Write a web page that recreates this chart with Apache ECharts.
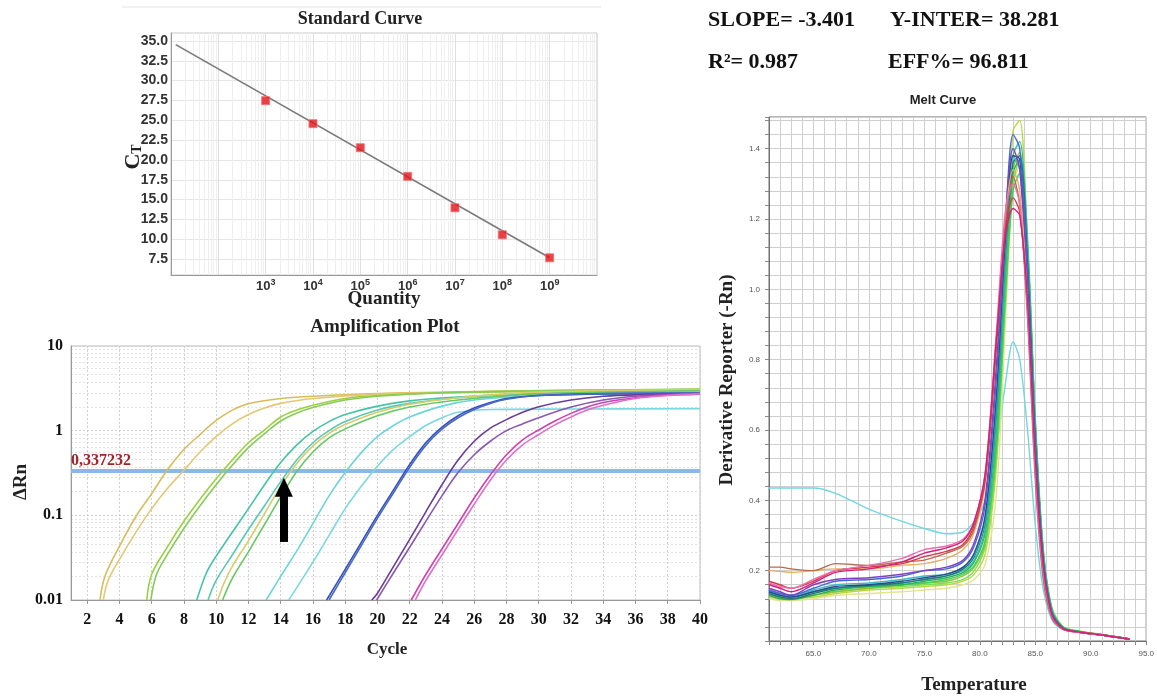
<!DOCTYPE html>
<html>
<head>
<meta charset="utf-8">
<script src="https://cdn.jsdelivr.net/npm/echarts@6/dist/echarts.min.js"></script>
<style>
  html, body { margin: 0; padding: 0; background: #fff; }
  #chart { width: 1157px; height: 699px; }
</style>
</head>
<body>
<div id="chart"></div>
<script>
// ---------- standard curve ----------
const quantityExp = [3, 4, 5, 6, 7, 8, 9]
const ctValues = [27.47, 24.57, 21.54, 17.93, 13.97, 10.57, 7.67]
const ctTicks = [7.5, 10, 12.5, 15, 17.5, 20, 22.5, 25, 27.5, 30, 32.5, 35]
const quantityTicks = [3, 4, 5, 6, 7, 8, 9]
const fitSlope = -3.401
const fitIntercept = 38.281
const fitRange = [1.1, 9]

// ---------- amplification plot ----------
const cycleTicks = [2, 4, 6, 8, 10, 12, 14, 16, 18, 20, 22, 24, 26, 28, 30, 32, 34, 36, 38, 40]
const threshold = 0.337232
const arrowCycle = 14.2
const arrowFrom = 0.0485
const arrowTo = 0.214

const ampGold1 = [[2.8, 0.01], [3.1, 0.019], [4, 0.043], [5, 0.095], [6, 0.18], [7, 0.35], [8, 0.6], [9, 0.9], [10, 1.32], [11, 1.75], [12, 2.08], [14, 2.4], [16, 2.55], [20, 2.75], [26, 2.9], [32, 3.0], [40, 3.05]]
const ampGold2 = [[3.0, 0.01], [3.3, 0.017], [4, 0.03], [5, 0.062], [6, 0.12], [7, 0.21], [8, 0.34], [9, 0.56], [10, 0.85], [11, 1.2], [12, 1.55], [13, 1.85], [14, 2.1], [16, 2.4], [20, 2.7], [26, 2.85], [32, 2.95], [40, 3.0]]
const ampGreen1 = [[5.7, 0.01], [6, 0.02], [7, 0.043], [8, 0.085], [9, 0.155], [10, 0.27], [11, 0.45], [12, 0.72], [13, 1.02], [14, 1.45], [15, 1.75], [16, 2.0], [18, 2.4], [20, 2.6], [24, 2.8], [30, 2.95], [40, 3.05]]
const ampGreen2 = [[5.95, 0.01], [6.3, 0.02], [7, 0.035], [8, 0.07], [9, 0.13], [10, 0.23], [11, 0.39], [12, 0.63], [13, 0.92], [14, 1.3], [15, 1.62], [16, 1.88], [18, 2.3], [20, 2.55], [24, 2.8], [30, 2.95], [40, 3.1]]
const ampTeal1 = [[8.8, 0.01], [9.4, 0.021], [10, 0.033], [11, 0.063], [12, 0.12], [13, 0.23], [14, 0.42], [15, 0.68], [16, 0.98], [17, 1.28], [18, 1.55], [20, 1.95], [22, 2.25], [25, 2.5], [30, 2.75], [40, 2.95]]
const ampTeal2 = [[9.5, 0.01], [10, 0.017], [11, 0.034], [12, 0.068], [13, 0.13], [14, 0.25], [15, 0.45], [16, 0.72], [17, 1.0], [18, 1.28], [20, 1.75], [22, 2.1], [25, 2.45], [30, 2.75], [40, 3.0]]
const ampOlive = [[10.1, 0.01], [10.5, 0.016], [11, 0.025], [12, 0.05], [13, 0.105], [14, 0.22], [15, 0.41], [16, 0.66], [17, 0.93], [18, 1.18], [20, 1.65], [22, 2.05], [25, 2.45], [30, 2.85], [40, 3.05]]
const ampGreen3 = [[10.4, 0.01], [11, 0.018], [12, 0.037], [13, 0.078], [14, 0.165], [15, 0.33], [16, 0.56], [17, 0.82], [18, 1.05], [20, 1.5], [22, 1.9], [25, 2.3], [30, 2.7], [40, 2.95]]
const ampCyan1 = [[13.1, 0.01], [14, 0.019], [15, 0.038], [16, 0.08], [17, 0.17], [18, 0.32], [19, 0.55], [20, 0.85], [21, 1.15], [22, 1.45], [24, 1.95], [26, 2.3], [30, 2.6], [40, 2.85]]
const ampCyan2 = [[14.5, 0.01], [15, 0.014], [16, 0.028], [17, 0.058], [18, 0.12], [19, 0.22], [20, 0.38], [21, 0.6], [22, 0.85], [23, 1.15], [24, 1.42], [25, 1.65], [27, 1.78], [32, 1.8], [40, 1.82]]
const ampBlue1 = [[16.85, 0.01], [18, 0.023], [19, 0.048], [20, 0.1], [21, 0.2], [22, 0.4], [23, 0.72], [24, 1.1], [25, 1.5], [26, 1.85], [27, 2.15], [28, 2.4], [30, 2.6], [34, 2.72], [40, 2.75]]
const ampBlue2 = [[17.0, 0.01], [18, 0.021], [19, 0.044], [20, 0.092], [21, 0.185], [22, 0.37], [23, 0.67], [24, 1.04], [25, 1.42], [26, 1.78], [27, 2.1], [28, 2.35], [30, 2.6], [34, 2.75], [40, 2.8]]
const ampPurple1 = [[19.65, 0.01], [20, 0.012], [21, 0.025], [22, 0.052], [23, 0.11], [24, 0.23], [25, 0.45], [26, 0.75], [27, 1.07], [28, 1.35], [29, 1.65], [30, 1.92], [32, 2.3], [34, 2.55], [36, 2.65], [40, 2.7]]
const ampPurple2 = [[19.95, 0.01], [21, 0.021], [22, 0.042], [23, 0.085], [24, 0.17], [25, 0.32], [26, 0.52], [27, 0.75], [28, 1.0], [29, 1.2], [30, 1.42], [32, 1.9], [34, 2.3], [36, 2.55], [38, 2.65], [40, 2.7]]
const ampMagenta1 = [[22.1, 0.01], [23, 0.02], [24, 0.04], [25, 0.08], [26, 0.16], [27, 0.3], [28, 0.52], [29, 0.78], [30, 1.02], [31, 1.3], [32, 1.6], [33, 1.9], [34, 2.15], [36, 2.45], [38, 2.65], [40, 2.75]]
const ampMagenta2 = [[22.35, 0.01], [23, 0.017], [24, 0.034], [25, 0.068], [26, 0.135], [27, 0.26], [28, 0.45], [29, 0.68], [30, 0.9], [31, 1.17], [32, 1.45], [33, 1.75], [34, 2.0], [36, 2.4], [38, 2.6], [40, 2.72]]

const ampCurves = [ampGold1, ampGold2, ampGreen1, ampGreen2, ampTeal1, ampTeal2, ampOlive, ampGreen3,
  ampCyan1, ampCyan2, ampBlue1, ampBlue2, ampPurple1, ampPurple2, ampMagenta1, ampMagenta2]
const ampColors = ['#d8bc5c', '#e2c874', '#9cd040', '#84cc58', '#44c4a4', '#58c8b8', '#d8cc6a', '#66c860',
  '#6cd4dc', '#7ad8e0', '#3350b8', '#4a68c8', '#6a3c98', '#8a58b0', '#d040b0', '#e070c8']

// ---------- melt curve ----------
const meltTemps = [61, 62, 63, 65, 67, 70, 73, 75, 77, 78.5, 79.5, 80.5, 81.5, 82.3, 83, 83.6, 84.3, 85, 85.7, 86.5, 87.5, 89, 91, 93.5]
const meltXTicks = [65, 70, 75, 80, 85, 90, 95]
const meltYTicks = [0.2, 0.4, 0.6, 0.8, 1.0, 1.2, 1.4]

const meltBrown = [0.21, 0.21, 0.205, 0.2, 0.22, 0.215, 0.225, 0.23, 0.25, 0.27, 0.32, 0.47, 0.86, 1.18, 1.32, 1.24, 0.92, 0.46, 0.18, 0.065, 0.033, 0.025, 0.018, 0.006]
const meltOrange = [0.2, 0.198, 0.195, 0.2, 0.205, 0.205, 0.215, 0.22, 0.235, 0.26, 0.31, 0.45, 0.84, 1.2, 1.34, 1.28, 0.96, 0.5, 0.2, 0.072, 0.034, 0.025, 0.018, 0.006]
const meltPink = [0.165, 0.155, 0.15, 0.175, 0.2, 0.215, 0.235, 0.26, 0.27, 0.29, 0.34, 0.48, 0.88, 1.22, 1.3, 1.24, 0.94, 0.48, 0.2, 0.07, 0.034, 0.024, 0.017, 0.005]
const meltMagenta = [0.16, 0.15, 0.14, 0.165, 0.195, 0.205, 0.225, 0.25, 0.265, 0.285, 0.34, 0.48, 0.86, 1.15, 1.23, 1.21, 0.97, 0.52, 0.22, 0.075, 0.035, 0.025, 0.017, 0.005]
const meltRed = [0.17, 0.16, 0.15, 0.17, 0.2, 0.21, 0.22, 0.24, 0.255, 0.275, 0.33, 0.46, 0.84, 1.17, 1.26, 1.22, 0.95, 0.5, 0.21, 0.072, 0.034, 0.025, 0.017, 0.005]
const meltPurple = [0.15, 0.14, 0.13, 0.16, 0.175, 0.18, 0.19, 0.2, 0.21, 0.23, 0.28, 0.41, 0.79, 1.2, 1.4, 1.34, 1.0, 0.52, 0.22, 0.075, 0.035, 0.025, 0.017, 0.005]
const meltBlue = [0.145, 0.135, 0.13, 0.15, 0.17, 0.175, 0.185, 0.2, 0.205, 0.225, 0.27, 0.39, 0.75, 1.18, 1.44, 1.4, 1.05, 0.55, 0.23, 0.08, 0.036, 0.025, 0.017, 0.005]
const meltNavy = [0.14, 0.13, 0.125, 0.14, 0.155, 0.16, 0.17, 0.18, 0.19, 0.21, 0.25, 0.36, 0.7, 1.14, 1.38, 1.37, 1.05, 0.55, 0.23, 0.08, 0.036, 0.025, 0.017, 0.005]
const meltDarkTeal = [0.135, 0.125, 0.12, 0.135, 0.15, 0.158, 0.165, 0.175, 0.185, 0.205, 0.24, 0.34, 0.66, 1.1, 1.36, 1.38, 1.08, 0.58, 0.24, 0.082, 0.037, 0.026, 0.018, 0.006]
const meltGreen = [0.13, 0.12, 0.118, 0.13, 0.145, 0.155, 0.16, 0.17, 0.18, 0.195, 0.225, 0.31, 0.6, 1.05, 1.33, 1.37, 1.1, 0.6, 0.25, 0.085, 0.038, 0.026, 0.018, 0.006]
const meltBrightGreen = [0.14, 0.13, 0.125, 0.14, 0.15, 0.155, 0.16, 0.165, 0.175, 0.19, 0.215, 0.29, 0.55, 0.98, 1.28, 1.33, 1.12, 0.62, 0.26, 0.09, 0.039, 0.027, 0.018, 0.006]
const meltSeaGreen = [0.14, 0.13, 0.125, 0.14, 0.15, 0.16, 0.165, 0.175, 0.185, 0.2, 0.23, 0.32, 0.62, 1.06, 1.38, 1.42, 1.13, 0.62, 0.26, 0.088, 0.038, 0.026, 0.018, 0.006]
const meltYellowGreen = [0.125, 0.12, 0.12, 0.125, 0.135, 0.145, 0.15, 0.155, 0.16, 0.17, 0.19, 0.25, 0.5, 1.0, 1.45, 1.48, 1.14, 0.62, 0.26, 0.09, 0.039, 0.027, 0.018, 0.006]
const meltPaleYellow = [0.12, 0.115, 0.115, 0.12, 0.13, 0.135, 0.14, 0.145, 0.15, 0.16, 0.175, 0.22, 0.42, 0.9, 1.3, 1.35, 1.12, 0.62, 0.27, 0.095, 0.041, 0.027, 0.018, 0.006]
const meltLime = [0.13, 0.122, 0.12, 0.13, 0.14, 0.15, 0.155, 0.16, 0.165, 0.175, 0.2, 0.27, 0.52, 0.95, 1.3, 1.37, 1.15, 0.64, 0.27, 0.095, 0.041, 0.028, 0.019, 0.006]
const meltTeal = [0.145, 0.135, 0.13, 0.145, 0.16, 0.165, 0.175, 0.185, 0.19, 0.21, 0.245, 0.35, 0.68, 1.12, 1.38, 1.34, 1.02, 0.54, 0.22, 0.078, 0.036, 0.025, 0.017, 0.005]
const meltOlive = [0.13, 0.125, 0.12, 0.13, 0.14, 0.15, 0.16, 0.165, 0.17, 0.185, 0.21, 0.28, 0.56, 1.0, 1.34, 1.39, 1.1, 0.6, 0.25, 0.088, 0.039, 0.027, 0.018, 0.006]
const meltCyan = [0.435, 0.435, 0.435, 0.435, 0.42, 0.375, 0.34, 0.32, 0.305, 0.31, 0.34, 0.4, 0.55, 0.73, 0.85, 0.8, 0.6, 0.33, 0.15, 0.06, 0.033, 0.025, 0.017, 0.005]

const meltCurves = [meltCyan, meltPaleYellow, meltYellowGreen, meltLime, meltOlive, meltBrightGreen, meltGreen, meltSeaGreen,
  meltDarkTeal, meltTeal, meltNavy, meltBlue, meltPurple, meltOrange, meltBrown, meltRed, meltPink, meltMagenta]
const meltColors = ['#70d8e0', '#e4e48c', '#b8d840', '#78e050', '#98c030', '#40d060', '#30b050', '#30c0a0',
  '#207878', '#40b8c0', '#2a4a90', '#4468d8', '#8040c0', '#e8b060', '#b86a50', '#d83848', '#e870b0', '#d0207a']

// ---------- stats ----------
const statSlope = -3.401
const statIntercept = 38.281
const statR2 = 0.987
const statEff = 96.811

const serif = '"Liberation Serif", "Times New Roman", serif'
const sans = '"Liberation Sans", Arial, sans-serif'

const chart = echarts.init(document.getElementById('chart'))

// light log-decade grid lines for the standard curve x axis
const stdMinorGrid = []
for (let n = 1; n < 10; n++) {
  for (let k = 2; k < 10; k++) stdMinorGrid.push({ xAxis: n + Math.log10(k) })
}

const series = []

// standard curve
series.push({
  type: 'line',
  xAxisIndex: 0,
  yAxisIndex: 0,
  data: fitRange.map((x) => [x, fitIntercept + fitSlope * x]),
  symbol: 'none',
  lineStyle: { color: '#7a7a7a', width: 1.6 },
  silent: true,
  z: 3,
  markLine: {
    silent: true,
    symbol: 'none',
    label: { show: false },
    lineStyle: { color: '#efefef', width: 1, type: 'solid' },
    data: stdMinorGrid,
    z: 1
  }
})
series.push({
  type: 'scatter',
  xAxisIndex: 0,
  yAxisIndex: 0,
  data: quantityExp.map((q, i) => [q, ctValues[i]]),
  symbol: 'rect',
  symbolSize: 8,
  itemStyle: { color: '#e3131b', borderColor: '#f27070', borderWidth: 1 },
  z: 5
})

// amplification curves
ampCurves.forEach((c, i) => {
  series.push({
    type: 'line',
    xAxisIndex: 1,
    yAxisIndex: 1,
    data: c,
    symbol: 'none',
    smooth: 0.35,
    lineStyle: { color: ampColors[i], width: 1.6 },
    silent: true,
    z: 3
  })
})
// threshold + arrow
series.push({
  type: 'line',
  xAxisIndex: 1,
  yAxisIndex: 1,
  data: [],
  markLine: {
    silent: true,
    symbol: 'none',
    lineStyle: { color: '#8fb6e8', width: 4, type: 'solid' },
    label: {
      show: true,
      position: 'insideStartTop',
      formatter: '0,337232',
      color: '#a3212a',
      fontFamily: serif,
      fontWeight: 'bold',
      fontSize: 16,
      distance: [0, 1]
    },
    data: [{ yAxis: threshold }],
    z: 2
  }
})
series.push({
  type: 'line',
  xAxisIndex: 1,
  yAxisIndex: 1,
  data: [],
  markLine: {
    silent: true,
    symbol: ['none', 'triangle'],
    symbolSize: [18, 19],
    lineStyle: { color: '#000', width: 8, type: 'solid' },
    itemStyle: { color: '#000' },
    label: { show: false },
    data: [[{ coord: [arrowCycle, arrowFrom] }, { coord: [arrowCycle, arrowTo] }]],
    z: 6
  },
  z: 6
})

// melt curves
meltCurves.forEach((c, i) => {
  series.push({
    type: 'line',
    xAxisIndex: 2,
    yAxisIndex: 2,
    data: meltTemps.map((t, j) => [t, c[j]]),
    symbol: 'none',
    smooth: 0.3,
    lineStyle: { color: meltColors[i], width: 1.4 },
    silent: true,
    z: 3
  })
})

const option = {
  animation: false,
  backgroundColor: '#fff',
  grid: [
    { left: 171, top: 33, width: 426, height: 242, show: true, borderColor: '#c8c8c8', borderWidth: 1 },
    { left: 71, top: 346, width: 629, height: 254, show: true, borderColor: '#bdbdbd', borderWidth: 1 },
    { left: 769, top: 117, width: 378, height: 524, show: true, borderColor: '#707070', borderWidth: 1 }
  ],
  xAxis: [
    {
      gridIndex: 0, type: 'value', min: 1, max: 10, interval: 1,
      axisLine: { lineStyle: { color: '#999' } },
      axisTick: { show: false },
      splitLine: { show: true, lineStyle: { color: '#e0e0e0' } },
      axisLabel: {
        margin: 3,
        formatter: (v) => quantityTicks.includes(v) ? '{b|10}{s|' + v + '}' : '',
        rich: {
          b: { fontFamily: sans, fontWeight: 'bold', fontSize: 13, color: '#333' },
          s: { fontFamily: sans, fontWeight: 'bold', fontSize: 9, color: '#333', verticalAlign: 'top', padding: [0, 0, 8, 0] }
        }
      }
    },
    {
      gridIndex: 1, type: 'value', min: 1, max: 40,
      axisLine: { lineStyle: { color: '#999' } },
      axisTick: { show: true, customValues: cycleTicks, length: 4, lineStyle: { color: '#999' } },
      splitLine: { show: true, lineStyle: { color: '#d0d0d0', type: [2, 2] } },
      axisLabel: {
        customValues: cycleTicks,
        margin: 12,
        fontFamily: serif, fontWeight: 'bold', fontSize: 16, color: '#111'
      }
    },
    {
      gridIndex: 2, type: 'value', min: 61, max: 95, interval: 1,
      axisLine: { lineStyle: { color: '#707070' } },
      axisTick: { show: true, length: 4, lineStyle: { color: '#888' } },
      splitLine: { show: true, lineStyle: { color: '#cfcfcf' } },
      axisLabel: {
        margin: 9,
        formatter: (v) => meltXTicks.includes(v) ? v.toFixed(1) : '',
        fontFamily: sans, fontSize: 8, color: '#555'
      }
    }
  ],
  yAxis: [
    {
      gridIndex: 0, type: 'value', min: 5.5, max: 36,
      axisLine: { show: true, lineStyle: { color: '#999' } },
      axisTick: { show: false, customValues: ctTicks },
      splitLine: { show: true, lineStyle: { color: '#e6e6e6' } },
      axisLabel: {
        customValues: ctTicks,
        margin: 3,
        formatter: (v) => v.toFixed(1),
        fontFamily: sans, fontWeight: 'bold', fontSize: 14, color: '#333'
      }
    },
    {
      gridIndex: 1, type: 'log', logBase: 10, min: 0.01, max: 10,
      axisLine: { show: true, lineStyle: { color: '#999' } },
      axisTick: { show: false },
      splitLine: { show: true, lineStyle: { color: '#d0d0d0', type: [2, 2] } },
      minorTick: { show: false, splitNumber: 10 },
      minorSplitLine: { show: true, lineStyle: { color: '#e2e2e2', type: [2, 2] } },
      axisLabel: {
        margin: 8,
        fontFamily: serif, fontWeight: 'bold', fontSize: 16, color: '#111'
      }
    },
    {
      gridIndex: 2, type: 'value', min: 0, max: 1.49, interval: 0.04,
      axisLine: { show: true, lineStyle: { color: '#707070' } },
      axisTick: { show: true, length: 4, lineStyle: { color: '#888' } },
      splitLine: { show: true, lineStyle: { color: '#cfcfcf' } },
      axisLabel: {
        margin: 9,
        formatter: (v) => meltYTicks.some((t) => Math.abs(t - v) < 1e-6) ? v.toFixed(1) : '',
        fontFamily: sans, fontSize: 8, color: '#555'
      }
    }
  ],
  series: series,
  graphic: [
    { type: 'line', shape: { x1: 122, y1: 7, x2: 601, y2: 7 }, style: { stroke: '#e2e2e2', lineWidth: 1 }, silent: true },
    // standard curve texts
    { type: 'text', x: 360, y: 19, style: { text: 'Standard Curve', font: 'bold 18px ' + serif, fill: '#222', textAlign: 'center', textVerticalAlign: 'middle' } },
    { type: 'text', x: 384, y: 299, style: { text: 'Quantity', font: 'bold 19px ' + serif, fill: '#222', textAlign: 'center', textVerticalAlign: 'middle' } },
    {
      type: 'text', x: 133, y: 157, rotation: Math.PI / 2,
      style: {
        text: '{c|C}{t|T}', textAlign: 'center', textVerticalAlign: 'middle',
        rich: {
          c: { font: 'bold 22px ' + serif, fill: '#222' },
          t: { font: 'bold 14px ' + serif, fill: '#222', verticalAlign: 'bottom', padding: [8, 0, 0, 0] }
        }
      }
    },
    // stats
    { type: 'text', x: 708, y: 20, style: { text: 'SLOPE= ' + statSlope.toFixed(3), font: 'bold 22px ' + serif, fill: '#111', textVerticalAlign: 'middle' } },
    { type: 'text', x: 890, y: 20, style: { text: 'Y-INTER= ' + statIntercept.toFixed(3), font: 'bold 22px ' + serif, fill: '#111', textVerticalAlign: 'middle' } },
    { type: 'text', x: 708, y: 62, style: { text: 'R\u00b2= ' + statR2.toFixed(3), font: 'bold 22px ' + serif, fill: '#111', textVerticalAlign: 'middle' } },
    { type: 'text', x: 888, y: 62, style: { text: 'EFF%= ' + statEff.toFixed(3), font: 'bold 22px ' + serif, fill: '#111', textVerticalAlign: 'middle' } },
    // amplification texts
    { type: 'text', x: 385, y: 327, style: { text: 'Amplification Plot', font: 'bold 19px ' + serif, fill: '#222', textAlign: 'center', textVerticalAlign: 'middle' } },
    { type: 'text', x: 387, y: 650, style: { text: 'Cycle', font: 'bold 17px ' + serif, fill: '#222', textAlign: 'center', textVerticalAlign: 'middle' } },
    { type: 'text', x: 21, y: 482, rotation: Math.PI / 2, style: { text: '\u0394Rn', font: 'bold 19px ' + serif, fill: '#222', textAlign: 'center', textVerticalAlign: 'middle' } },
    // melt texts
    { type: 'text', x: 943, y: 100, style: { text: 'Melt Curve', font: 'bold 13px ' + sans, fill: '#222', textAlign: 'center', textVerticalAlign: 'middle' } },
    { type: 'text', x: 974, y: 685, style: { text: 'Temperature', font: 'bold 19px ' + serif, fill: '#222', textAlign: 'center', textVerticalAlign: 'middle' } },
    { type: 'text', x: 727, y: 380, rotation: Math.PI / 2, style: { text: 'Derivative Reporter (-Rn)', font: 'bold 19px ' + serif, fill: '#222', textAlign: 'center', textVerticalAlign: 'middle' } }
  ]
}

chart.setOption(option)
</script>
</body>
</html>
